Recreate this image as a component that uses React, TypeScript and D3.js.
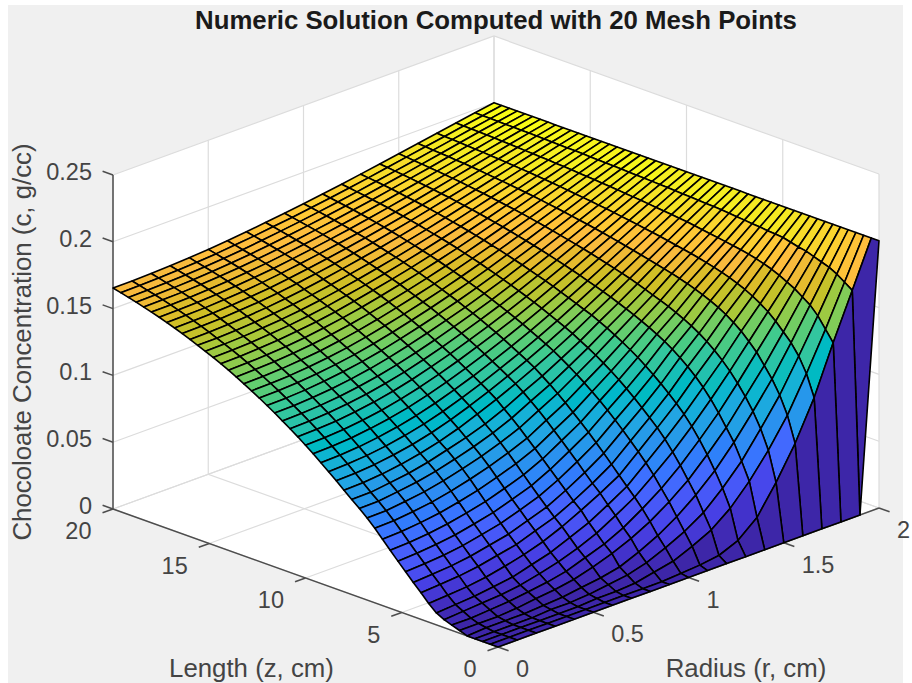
import React from "react";
import * as d3 from "d3";

const radiusMesh = [0, .1, .2, .3, .4, .5, .6, .7, .8, .9, 1, 1.1, 1.2, 1.3, 1.4, 1.5, 1.6, 1.7, 1.8, 1.9, 2];
const lengthMesh = [
  0, .4, .8, 1.2, 1.6, 2, 2.4, 2.8, 3.2, 3.6, 4, 4.4, 4.8, 5.2, 5.6, 6, 6.4, 6.8, 7.2, 7.6, 8, 8.4, 8.8, 9.2, 9.6, 10,
  10.4, 10.8, 11.2, 11.6, 12, 12.4, 12.8, 13.2, 13.6, 14, 14.4, 14.8, 15.2, 15.6, 16, 16.4, 16.8, 17.2, 17.6, 18, 18.4, 18.8, 19.2, 19.6, 20,
];

// one row per length, one column per radius
const concentration = [
  [0,0,0,0,0,0,0,0,0,0,0,0,0,0,0,0,0,0,0,0,.2],
  [0,0,0,0,0,0,0,0,0,0,.001,.002,.004,.010,.022,.043,.067,.096,.132,.166,.2],
  [0,0,0,0,0,0,.001,.001,.002,.005,.008,.014,.021,.032,.047,.065,.086,.112,.140,.170,.2],
  [0,0,0,0,.001,.001,.002,.004,.006,.010,.016,.023,.032,.045,.060,.079,.099,.123,.148,.174,.2],
  [0,.001,.001,.001,.002,.003,.005,.007,.010,.016,.023,.032,.043,.056,.072,.090,.109,.131,.154,.177,.2],
  [.002,.002,.002,.003,.005,.0065,.009,.013,.018,.024,.0315,.041,.052,.066,.081,.099,.117,.137,.158,.179,.2],
  [.004,.004,.005,.006,.008,.010,.013,.018,.023,.030,.039,.049,.061,.075,.090,.107,.125,.143,.162,.181,.2],
  [.006,.007,.008,.009,.011,.0143,.018,.023,.029,.037,.0456,.057,.069,.083,.098,.114,.131,.148,.165,.183,.2],
  [.009,.010,.011,.013,.015,.019,.023,.029,.035,.043,.0516,.064,.0765,.090,.105,.120,.1365,.152,.168,.184,.2],
  [.014,.015,.016,.018,.021,.0245,.029,.035,.042,.0496,.0578,.0703,.083,.096,.111,.1253,.141,.1555,.1705,.1855,.2],
  [.020,.021,.022,.024,.027,.030,.035,.040,.047,.055,.064,.0763,.0885,.1015,.1163,.130,.145,.1585,.1725,.187,.2],
  [.0256,.0265,.0276,.0296,.0326,.0357,.0406,.0456,.0528,.061,.0702,.0822,.094,.1066,.121,.134,.1482,.161,.1742,.1875,.2],
  [.0315,.0323,.0335,.0355,.0385,.0417,.0465,.0515,.0586,.067,.0761,.0878,.0992,.1114,.1252,.1375,.151,.1632,.1756,.188,.2],
  [.0374,.0381,.0394,.0414,.0444,.0477,.0524,.0574,.0644,.0729,.0818,.0931,.1041,.1159,.129,.1406,.1535,.1651,.1768,.1886,.2],
  [.0435,.0441,.0455,.0475,.0505,.0539,.0585,.0635,.0702,.0787,.0873,.0981,.1087,.1201,.1323,.1434,.1557,.1668,.1778,.1891,.2],
  [.0497,.0502,.0517,.0537,.0567,.0602,.0647,.0697,.0759,.0843,.0926,.1029,.113,.1239,.1353,.1459,.1577,.1683,.1788,.1897,.2],
  [.0558,.0562,.0578,.0598,.0628,.0665,.0708,.0758,.0816,.0898,.0977,.1074,.117,.1274,.138,.1482,.1595,.1697,.1797,.1902,.2],
  [.0614,.0617,.0634,.0654,.0684,.0722,.0764,.0814,.0872,.095,.1026,.1116,.1208,.1307,.1406,.1503,.1611,.171,.1806,.1907,.2],
  [.0665,.0667,.0685,.0705,.0735,.0773,.0815,.0865,.0925,.100,.1072,.1156,.1243,.1338,.143,.1524,.1626,.1721,.1815,.1912,.2],
  [.0712,.0713,.0732,.0752,.0782,.0822,.0862,.0912,.0973,.1047,.1115,.1194,.1275,.1367,.1454,.1545,.164,.1732,.1824,.1916,.2],
  [.076,.0765,.0777,.0798,.0827,.0864,.091,.0965,.1024,.1089,.1157,.123,.1308,.1394,.1477,.1565,.1654,.1743,.1833,.1918,.2],
  [.081,.0815,.0827,.0847,.0874,.091,.0954,.1006,.1063,.1125,.1191,.1261,.1336,.1416,.1498,.1582,.1668,.1754,.1839,.1921,.2],
  [.0858,.0863,.0874,.0893,.092,.0954,.0996,.1046,.1101,.1161,.1223,.1291,.1363,.1439,.1518,.1599,.1681,.1764,.1846,.1925,.2],
  [.0904,.0908,.0919,.0938,.0963,.0996,.1037,.1085,.1137,.1194,.1255,.1319,.1388,.1462,.1537,.1615,.1694,.1773,.1852,.1928,.2],
  [.095,.0954,.0965,.0983,.1007,.1038,.1077,.1123,.1174,.1228,.1286,.1348,.1414,.1484,.1557,.1631,.1707,.1783,.1858,.1931,.2],
  [.0994,.0998,.1008,.1025,.1048,.1079,.1116,.116,.1208,.1261,.1316,.1375,.1439,.1506,.1575,.1647,.1719,.1792,.1864,.1934,.2],
  [.1036,.104,.1049,.1066,.1088,.1117,.1153,.1195,.1241,.1291,.1344,.1401,.1462,.1527,.1593,.1662,.1731,.18,.187,.1936,.2],
  [.1076,.108,.1089,.1105,.1126,.1154,.1188,.1228,.1273,.1321,.1372,.1426,.1484,.1546,.161,.1676,.1742,.1809,.1875,.1939,.2],
  [.1114,.1118,.1126,.1141,.1162,.1188,.1221,.126,.1303,.1349,.1398,.145,.1506,.1565,.1626,.1689,.1753,.1817,.188,.1942,.2],
  [.1152,.1155,.1164,.1178,.1198,.1223,.1255,.1292,.1333,.1377,.1423,.1473,.1527,.1584,.1642,.1702,.1763,.1824,.1886,.1944,.2],
  [.1188,.1191,.1199,.1213,.1232,.1256,.1286,.1322,.1361,.1403,.1448,.1496,.1547,.1601,.1657,.1715,.1773,.1832,.189,.1946,.2],
  [.1223,.1226,.1234,.1247,.1265,.1288,.1317,.1351,.1389,.1429,.1472,.1517,.1566,.1618,.1672,.1727,.1783,.1839,.1895,.1949,.2],
  [.1256,.1259,.1266,.1279,.1296,.1318,.1346,.1379,.1414,.1453,.1494,.1538,.1585,.1635,.1686,.1739,.1792,.1846,.19,.1951,.2],
  [.1288,.1291,.1298,.131,.1326,.1348,.1374,.1405,.144,.1477,.1516,.1558,.1603,.165,.17,.175,.1801,.1853,.1904,.1953,.2],
  [.1319,.1322,.1329,.134,.1356,.1376,.1401,.1431,.1464,.1499,.1537,.1577,.162,.1666,.1713,.1761,.181,.1859,.1908,.1955,.2],
  [.1349,.1352,.1358,.1369,.1384,.1404,.1428,.1456,.1488,.1522,.1557,.1596,.1637,.168,.1725,.1771,.1818,.1865,.1912,.1957,.2],
  [.1377,.1379,.1386,.1396,.1411,.1429,.1452,.148,.151,.1542,.1576,.1613,.1652,.1694,.1737,.1781,.1826,.1871,.1916,.1959,.2],
  [.1403,.1405,.1411,.1422,.1435,.1453,.1475,.1502,.153,.1561,.1594,.1629,.1667,.1707,.1748,.179,.1833,.1876,.1919,.1961,.2],
  [.1428,.143,.1436,.1446,.1459,.1476,.1497,.1522,.155,.158,.1611,.1645,.1681,.1719,.1759,.1799,.184,.1882,.1923,.1962,.2],
  [.1452,.1454,.146,.1469,.1482,.1498,.1518,.1542,.1569,.1597,.1627,.166,.1694,.1731,.1769,.1808,.1847,.1887,.1926,.1964,.2],
  [.1476,.1478,.1483,.1492,.1504,.152,.1539,.1562,.1588,.1615,.1644,.1675,.1708,.1743,.1779,.1816,.1854,.1892,.1929,.1965,.2],
  [.1499,.1501,.1506,.1515,.1526,.1541,.156,.1582,.1606,.1632,.1659,.1689,.172,.1754,.1789,.1824,.186,.1896,.1932,.1967,.2],
  [.152,.1522,.1527,.1535,.1546,.156,.1578,.1599,.1622,.1647,.1674,.1702,.1732,.1764,.1797,.1832,.1866,.1901,.1935,.1968,.2],
  [.154,.1542,.1546,.1554,.1565,.1579,.1596,.1616,.1638,.1662,.1687,.1714,.1743,.1774,.1806,.1839,.1872,.1905,.1938,.197,.2],
  [.1559,.1561,.1565,.1573,.1583,.1596,.1612,.1632,.1653,.1676,.17,.1726,.1754,.1783,.1814,.1845,.1877,.1909,.194,.1971,.2],
  [.1577,.1579,.1583,.159,.16,.1613,.1628,.1647,.1667,.1689,.1712,.1737,.1764,.1792,.1821,.1852,.1882,.1912,.1943,.1972,.2],
  [.1594,.1596,.16,.1607,.1616,.1628,.1643,.1661,.168,.1702,.1724,.1748,.1773,.1801,.1829,.1857,.1887,.1916,.1945,.1973,.2],
  [.161,.1612,.1615,.1622,.1631,.1643,.1657,.1674,.1693,.1713,.1735,.1758,.1782,.1809,.1835,.1863,.1891,.1919,.1947,.1974,.2],
  [.1625,.1626,.163,.1637,.1645,.1656,.167,.1687,.1705,.1724,.1745,.1767,.1791,.1816,.1842,.1868,.1895,.1922,.1949,.1975,.2],
  [.164,.1641,.1645,.1651,.1659,.167,.1684,.1699,.1717,.1735,.1755,.1776,.1799,.1823,.1848,.1874,.19,.1925,.1951,.1976,.2],
  [.1654,.1655,.1659,.1665,.1673,.1683,.1696,.1711,.1728,.1746,.1765,.1785,.1807,.183,.1854,.1879,.1903,.1928,.1953,.1977,.2],
];

const radiusTicks = [0, .5, 1, 1.5, 2];
const lengthTicks = [0, 5, 10, 15, 20];
const concTicks = [0, .05, .1, .15, .2, .25];

const parula = [
  [.2422,.1504,.6603],[.2504,.1650,.7076],[.2578,.1818,.7511],[.2647,.1978,.7952],[.2706,.2147,.8364],[.2751,.2342,.8710],
  [.2783,.2559,.8991],[.2803,.2782,.9221],[.2813,.3006,.9414],[.2810,.3228,.9579],[.2795,.3447,.9717],[.2760,.3667,.9829],
  [.2699,.3892,.9906],[.2602,.4123,.9952],[.2440,.4358,.9988],[.2206,.4603,.9973],[.1963,.4847,.9892],[.1834,.5074,.9798],
  [.1786,.5289,.9682],[.1764,.5499,.9520],[.1687,.5703,.9359],[.1540,.5902,.9218],[.1460,.6091,.9079],[.1380,.6276,.8973],
  [.1248,.6459,.8883],[.1113,.6635,.8763],[.0952,.6798,.8598],[.0689,.6948,.8394],[.0297,.7082,.8163],[.0036,.7203,.7917],
  [.0067,.7312,.7660],[.0433,.7411,.7394],[.0964,.7500,.7120],[.1408,.7584,.6842],[.1717,.7670,.6554],[.1938,.7758,.6251],
  [.2161,.7843,.5923],[.2470,.7918,.5567],[.2906,.7973,.5188],[.3406,.8008,.4789],[.3909,.8029,.4354],[.4456,.8024,.3909],
  [.5044,.7993,.3480],[.5616,.7942,.3045],[.6174,.7876,.2612],[.6720,.7793,.2227],[.7242,.7698,.1910],[.7738,.7598,.1646],
  [.8203,.7498,.1535],[.8634,.7406,.1596],[.9035,.7330,.1774],[.9393,.7288,.2100],[.9728,.7298,.2394],[.9956,.7434,.2371],
  [.9970,.7659,.2199],[.9952,.7893,.2028],[.9892,.8136,.1885],[.9786,.8386,.1766],[.9676,.8639,.1643],[.9610,.8890,.1537],
  [.9597,.9135,.1423],[.9628,.9373,.1265],[.9691,.9606,.1064],[.9769,.9839,.0805],
].map(([r, g, b]) => d3.rgb(r * 255, g * 255, b * 255).formatHex());

const width = 912;
const height = 683;
const font = "'Liberation Sans', Arial, sans-serif";

// screen directions of the three axes (orthographic view)
const rightX = d3.scaleLinear().domain([0, 2]).range([0, 381]);
const rightY = d3.scaleLinear().domain([0, 2]).range([0, -139]);
const leftX = d3.scaleLinear().domain([0, 20]).range([0, -385]);
const leftY = d3.scaleLinear().domain([0, 20]).range([0, -138]);
const upY = d3.scaleLinear().domain([0, .25]).range([0, -334]);
const originX = 498;
const originY = 647;

const project = (r: number, z: number, c: number): [number, number] => [
  originX + rightX(r) + leftX(z),
  originY + rightY(r) + leftY(z) + upY(c),
];

const color = d3.scaleQuantize<string>().domain([0, .2]).range(parula);
const pathOf = d3.line();

const App = () => {
  const maxR = 2, maxZ = 20, maxC = .25;

  // painter's order: far corner first
  const faces: { d: string; fill: string }[] = [];
  for (let j = lengthMesh.length - 2; j >= 0; j--) {
    for (let i = radiusMesh.length - 2; i >= 0; i--) {
      const pts = [
        project(radiusMesh[i], lengthMesh[j], concentration[j][i]),
        project(radiusMesh[i + 1], lengthMesh[j], concentration[j][i + 1]),
        project(radiusMesh[i + 1], lengthMesh[j + 1], concentration[j + 1][i + 1]),
        project(radiusMesh[i], lengthMesh[j + 1], concentration[j + 1][i]),
      ];
      faces.push({ d: pathOf(pts) + "Z", fill: color(concentration[j][i]) });
    }
  }

  const walls = [
    [project(0, maxZ, 0), project(maxR, maxZ, 0), project(maxR, maxZ, maxC), project(0, maxZ, maxC)],
    [project(maxR, maxZ, 0), project(maxR, 0, 0), project(maxR, 0, maxC), project(maxR, maxZ, maxC)],
    [project(0, 0, 0), project(maxR, 0, 0), project(maxR, maxZ, 0), project(0, maxZ, 0)],
  ];

  const grid: [number, number][][] = [];
  radiusTicks.forEach((r) => {
    grid.push([project(r, 0, 0), project(r, maxZ, 0), project(r, maxZ, maxC)]);
  });
  lengthTicks.forEach((z) => {
    grid.push([project(0, z, 0), project(maxR, z, 0), project(maxR, z, maxC)]);
  });
  concTicks.forEach((c) => {
    grid.push([project(0, maxZ, c), project(maxR, maxZ, c), project(maxR, 0, c)]);
  });

  const axisStroke = "#4d4d4d";
  const tickFill = "#444";

  return (
    <svg width={width} height={height} viewBox={`0 0 ${width} ${height}`}
      style={{ position: "absolute", left: 0, top: 0, background: "#fff" }}>
      <defs>
        <filter id="soft" x="-2%" y="-2%" width="104%" height="104%">
          <feGaussianBlur stdDeviation="0.45" />
        </filter>
      </defs>
      <rect x={8} y={5} width={895} height={678} fill="#f0f0f0" />

      {walls.map((w, i) => (
        <path key={i} d={pathOf(w) + "Z"} fill="#fff" />
      ))}
      {grid.map((g, i) => (
        <path key={i} d={pathOf(g)!} fill="none" stroke="#dcdcdc" strokeWidth={1.2} />
      ))}

      <g stroke={axisStroke} strokeWidth={1.5} fill="none">
        <path d={pathOf([project(0, maxZ, 0), project(0, maxZ, maxC)])!} />
        <path d={pathOf([project(0, maxZ, 0), project(0, 0, 0), project(maxR, 0, 0)])!} />
        {concTicks.map((c) => (
          <path key={c} d={pathOf([project(0, maxZ, c), project(0, maxZ * 1.027, c)])!} />
        ))}
        {lengthTicks.map((z) => (
          <path key={z} d={pathOf([project(0, z, 0), project(-.055, z, 0)])!} />
        ))}
        {radiusTicks.map((r) => (
          <path key={r} d={pathOf([project(r, 0, 0), project(r, -.55, 0)])!} />
        ))}
      </g>

      <g filter="url(#soft)">
        {faces.map((f, i) => (
          <path key={i} d={f.d} fill={f.fill} stroke="#000" strokeWidth={1.6} strokeLinejoin="round" />
        ))}
      </g>

      <g fontFamily={font} fontSize={23.5} fill={tickFill}>
        {concTicks.map((c) => (
          <text key={c} x={92} y={project(0, maxZ, c)[1] + 5} textAnchor="end">{String(c)}</text>
        ))}
        {lengthTicks.map((z) => {
          const [x, y] = project(0, z, 0);
          return <text key={z} x={x - 21.5} y={y + 30} textAnchor="end">{String(z)}</text>;
        })}
        {radiusTicks.map((r) => {
          const [x, y] = project(r, 0, 0);
          return <text key={r} x={x + 18} y={y + 30} textAnchor="start">{String(r)}</text>;
        })}
      </g>
      <g fontFamily={font} fontSize={25.8} fill={tickFill}>
        <text x={251.5} y={677} textAnchor="middle">Length (z, cm)</text>
        <text x={746} y={677} textAnchor="middle">Radius (r, cm)</text>
        <text transform="translate(31,342) rotate(-90)" textAnchor="middle">Chocoloate Concentration (c, g/cc)</text>
      </g>
      <text x={496} y={29} textAnchor="middle" fontFamily={font} fontSize={25.8} fontWeight="bold" fill="#1a1a1a">
        Numeric Solution Computed with 20 Mesh Points
      </text>
    </svg>
  );
};

export default App;
